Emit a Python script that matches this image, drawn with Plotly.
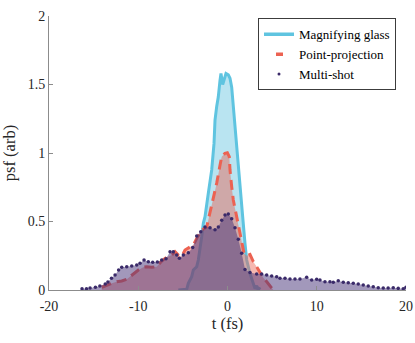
import plotly.graph_objects as go

# Magnifying glass
mg_t = [-5.51, -4.57, -4.39, -4.01, -3.83, -3.45, -3.27, -3.08, -2.89, -2.71, -2.52, -2.15, -1.77, -1.51, -1.4,
        -1.21, -1.03, -0.84, -0.73, -0.54, -0.36, -0.17, 0.09, 0.28, 0.47, 0.65, 0.84, 1.03, 1.21, 1.40, 1.70,
        1.96, 2.15, 2.52, 2.89, 3.08, 3.27, 3.45, 3.64]
mg_y = [0.0, 0.005, 0.049, 0.097, 0.146, 0.17, 0.219, 0.292, 0.389, 0.487, 0.535, 0.706, 0.876, 1.07, 1.24,
        1.34, 1.41, 1.53, 1.58, 1.50, 1.545, 1.58, 1.57, 1.545, 1.48, 1.34, 1.19, 1.02, 0.876, 0.706, 0.535,
        0.34, 0.219, 0.12, 0.04, 0.01, 0.03, 0.0, 0.02]

# Point-projection
pp_t = [-14.09, -13.53, -12.97, -12.41, -11.85, -11.29, -10.92, -10.55, -9.99, -9.43, -9.05, -8.49, -7.93,
        -7.37, -6.81, -6.25, -5.88, -5.51, -5.13, -4.76, -4.39, -3.83, -3.45, -2.89, -2.33, -1.96, -1.59,
        -1.21, -0.84, -0.65, -0.28, -0.02, 0.2, 0.28, 0.47, 0.65, 0.95, 1.21, 1.48, 1.85, 2.15, 2.52, 2.89,
        3.27, 3.64, 4.0, 4.4, 4.8, 5.13]
pp_y = [0.02, 0.036, 0.049, 0.061, 0.066, 0.078, 0.097, 0.12, 0.146, 0.166, 0.17, 0.166, 0.17,
        0.212, 0.239, 0.255, 0.28, 0.255, 0.243, 0.292, 0.304, 0.328, 0.377, 0.438, 0.46, 0.571, 0.657,
        0.78, 0.91, 0.973, 0.998, 1.002, 0.973, 0.876, 0.754, 0.657, 0.56, 0.487, 0.389, 0.268, 0.25, 0.26, 0.207,
        0.17, 0.13, 0.09, 0.06, 0.03, 0.0]

# Multi-shot
ms_t = [-16.3, -15.8, -15.4, -14.8, -14.3, -13.7, -13.4, -13.0, -12.6, -12.2, -11.85, -11.29, -10.73, -10.17,
        -9.8, -9.35, -8.87, -8.38, -7.86, -7.37, -6.89, -6.44, -6.07, -5.69, -5.39, -4.95, -4.39, -3.90,
        -3.45, -3.0, -2.52, -1.96, -1.4, -1.03, -0.65, -0.28, 0.09, 0.47, 0.84, 1.21, 1.59, 1.96, 2.52,
        3.27, 3.83, 4.39, 4.95, 5.51, 5.88, 6.44, 7.0, 7.56, 8.12, 8.87, 9.43, 9.99, 10.36, 10.92, 11.48,
        11.85, 12.41, 12.97, 13.53, 14.09, 14.65, 15.21, 15.77, 16.33, 16.89, 17.45, 18.0, 18.57, 19.13,
        19.69, 20.0]
ms_y = [0.01, 0.01, 0.015, 0.02, 0.03, 0.044, 0.058, 0.085, 0.11, 0.146, 0.166, 0.17, 0.175, 0.182,
        0.195, 0.219, 0.207, 0.202, 0.204, 0.219, 0.229, 0.28, 0.28, 0.255, 0.231, 0.255, 0.272, 0.31,
        0.394, 0.426, 0.46, 0.455, 0.44, 0.46, 0.51, 0.547, 0.555, 0.52, 0.455, 0.37, 0.268, 0.15, 0.127,
        0.117, 0.117, 0.109, 0.102, 0.097, 0.085, 0.085, 0.08, 0.08, 0.08, 0.093, 0.073, 0.078, 0.073, 0.061, 0.061,
        0.056, 0.068, 0.056, 0.053, 0.049, 0.044, 0.036, 0.029, 0.024, 0.017, 0.015, 0.015, 0.017, 0.012,
        0.01, 0.02]

series_names = ["Magnifying glass", "Point-projection", "Multi-shot"]
x_ticks = [-20, -10, 0, 10, 20]
x_ticktext = ["-20", "-10", "0", "10", "20"]
y_ticks = [0, 0.5, 1, 1.5, 2]
y_ticktext = ["0", "0.5", "1", "1.5", "2"]

CYAN = "rgb(95,196,224)"
RED = "rgb(236,98,82)"
PURPLE_DOT = "rgb(58,42,105)"
FONT = "Liberation Serif, serif"

fig = go.Figure()

fig.add_trace(go.Scatter(x=mg_t, y=mg_y, mode="lines", fill="tozeroy",
                         fillcolor="rgba(100,195,225,0.45)",
                         line=dict(color=CYAN, width=3), showlegend=False))
fig.add_trace(go.Scatter(x=pp_t, y=pp_y, mode="lines", fill="tozeroy",
                         fillcolor="rgba(235,95,80,0.45)",
                         line=dict(color=RED, width=3, dash="10px,6px"), showlegend=False))
fig.add_trace(go.Scatter(x=ms_t, y=ms_y, mode="markers", fill="tozeroy",
                         fillcolor="rgba(70,50,120,0.5)",
                         marker=dict(color=PURPLE_DOT, size=3.5), showlegend=False))

# legend-only entries
fig.add_trace(go.Scatter(x=[None], y=[None], mode="lines", name=series_names[0],
                         line=dict(color=CYAN, width=3.5)))
fig.add_trace(go.Scatter(x=[None], y=[None], mode="lines", name=series_names[1],
                         line=dict(color=RED, width=3.5, dash="0px,12px,7px,40px")))
fig.add_trace(go.Scatter(x=[None], y=[None], mode="markers", name=series_names[2],
                         marker=dict(color=PURPLE_DOT, size=3)))

axis_common = dict(showgrid=False, zeroline=False, showline=True, linecolor="#8c8c8c", linewidth=1,
                   ticks="inside", ticklen=4, tickcolor="#8c8c8c", automargin=False,
                   tickfont=dict(family=FONT, size=14, color="#262626"))

fig.update_layout(
    width=415, height=343,
    margin=dict(l=49, r=9, t=16, b=53),
    paper_bgcolor="white", plot_bgcolor="white",
    font=dict(family=FONT, size=14, color="#262626"),
    xaxis=dict(range=[-20, 20], tickvals=x_ticks, ticktext=x_ticktext, ticklabelstandoff=3,
               title=dict(text="t (fs)", font=dict(family=FONT, size=16.5, color="#262626"), standoff=4),
               **axis_common),
    yaxis=dict(range=[0, 2], tickvals=y_ticks, ticktext=y_ticktext,
               title=dict(text="psf (arb)", font=dict(family=FONT, size=16.5, color="#262626"), standoff=8),
               **axis_common),
    legend=dict(x=0.972, y=0.86, xanchor="right", yanchor="middle",
                bgcolor="white", bordercolor="#3c3c3c", borderwidth=1,
                font=dict(family=FONT, size=13, color="#000000"),
                itemwidth=30, tracegroupgap=0, traceorder="normal"),
)

fig.write_html("out.html", config={"displayModeBar": False},
               post_script="document.body.style.margin='0';document.body.style.padding='0';")
